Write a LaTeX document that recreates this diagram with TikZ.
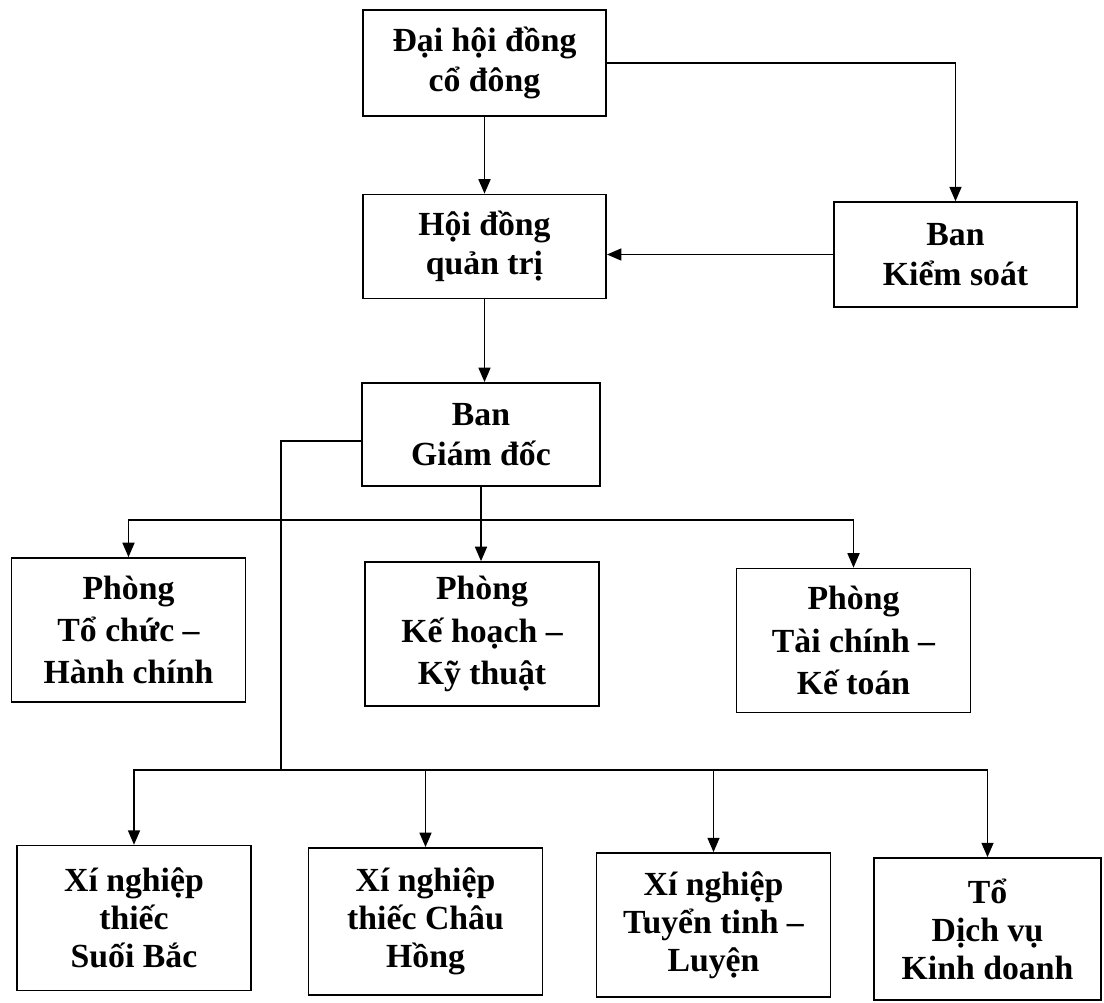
\documentclass[tikz,border=0pt]{standalone}
\usepackage{fontspec}
\setmainfont{Liberation Serif}
\usepackage{tikz}
\usetikzlibrary{arrows.meta}
\tikzstyle{orgbox}=[draw=black, line width=1.2pt, align=center, inner sep=1mm, minimum width=5.85cm, minimum height=3.6cm, font=\bfseries\fontsize{24}{28}\selectfont]
\tikzstyle{arr}=[line width=1.1pt, -{Triangle[length=3.6mm, width=3mm]}]
\tikzstyle{ln}=[line width=1.1pt]

\begin{document}
\begin{tikzpicture}[x=0.025cm, y=-0.025cm]
    \useasboundingbox (0,0) rectangle (1104,1002);
    \node[orgbox, minimum width=6.08cm, minimum height=2.65cm] (daihoi) at (484.5,63) {Đại hội đồng\\cổ đông};
    \node[orgbox, minimum width=6.08cm, minimum height=2.6cm] (hoidong) at (484.5,246.5) {Hội đồng\\quản trị};
    \node[orgbox, minimum width=6.08cm, minimum height=2.62cm] (kiemsoat) at (955.5,254.5) {Ban\\Kiểm soát};
    \node[orgbox, minimum width=5.95cm, minimum height=2.58cm] (giamdoc) at (481,434.5) {Ban\\Giám đốc};
    \node[orgbox, font=\bfseries\fontsize{24}{30}\selectfont] (tochuc) at (128.5,630) {Phòng\\Tổ chức –\\Hành chính};
    \node[orgbox, font=\bfseries\fontsize{24}{30}\selectfont] (kehoach) at (482,634) {Phòng\\Kế hoạch –\\Kỹ thuật};
    \node[orgbox, font=\bfseries\fontsize{24}{30}\selectfont] (taichinh) at (853.5,640.5) {Phòng\\Tài chính –\\Kế toán};
    \node[orgbox, minimum height=3.62cm, font=\bfseries\fontsize{24}{27}\selectfont] (suoibac) at (134,918) {Xí nghiệp\\thiếc\\Suối Bắc};
    \node[orgbox, minimum height=3.68cm, font=\bfseries\fontsize{24}{27}\selectfont] (chauhong) at (425.5,921.5) {Xí nghiệp\\thiếc Châu\\Hồng};
    \node[orgbox, font=\bfseries\fontsize{24}{27}\selectfont] (tuyentinh) at (713.5,925) {Xí nghiệp\\Tuyển tinh –\\Luyện};
    \node[orgbox, minimum width=5.68cm, minimum height=3.55cm, font=\bfseries\fontsize{24}{27}\selectfont] (dichvu) at (987.5,929) {Tổ\\Dịch vụ\\Kinh doanh};
    \coordinate (bus1) at (0,520);
    \coordinate (split) at (281,770);

    \draw[arr] (daihoi.east) -| (kiemsoat.north);
    \draw[arr] (daihoi.south) -- (hoidong.north);
    \draw[arr] (kiemsoat.west) -- (kiemsoat.west -| hoidong.east);
    \draw[arr] (hoidong.south) -- (hoidong.south |- giamdoc.north);
    \draw[arr] (giamdoc.south) -- (giamdoc.south |- kehoach.north);
    \draw[arr] (giamdoc.south |- bus1) -| (tochuc.north);
    \draw[arr] (giamdoc.south |- bus1) -| (taichinh.north);
    % nhanh xuong cac xi nghiep
    \draw[ln] ([yshift=-4.5]giamdoc.west) -| (split);
    \draw[arr] (split) -| (suoibac.north);
    \draw[arr] (split) -| (dichvu.north);
    \draw[arr] (split -| chauhong.north) -- (chauhong.north);
    \draw[arr] (split -| tuyentinh.north) -- (tuyentinh.north);
\end{tikzpicture}
\end{document}
